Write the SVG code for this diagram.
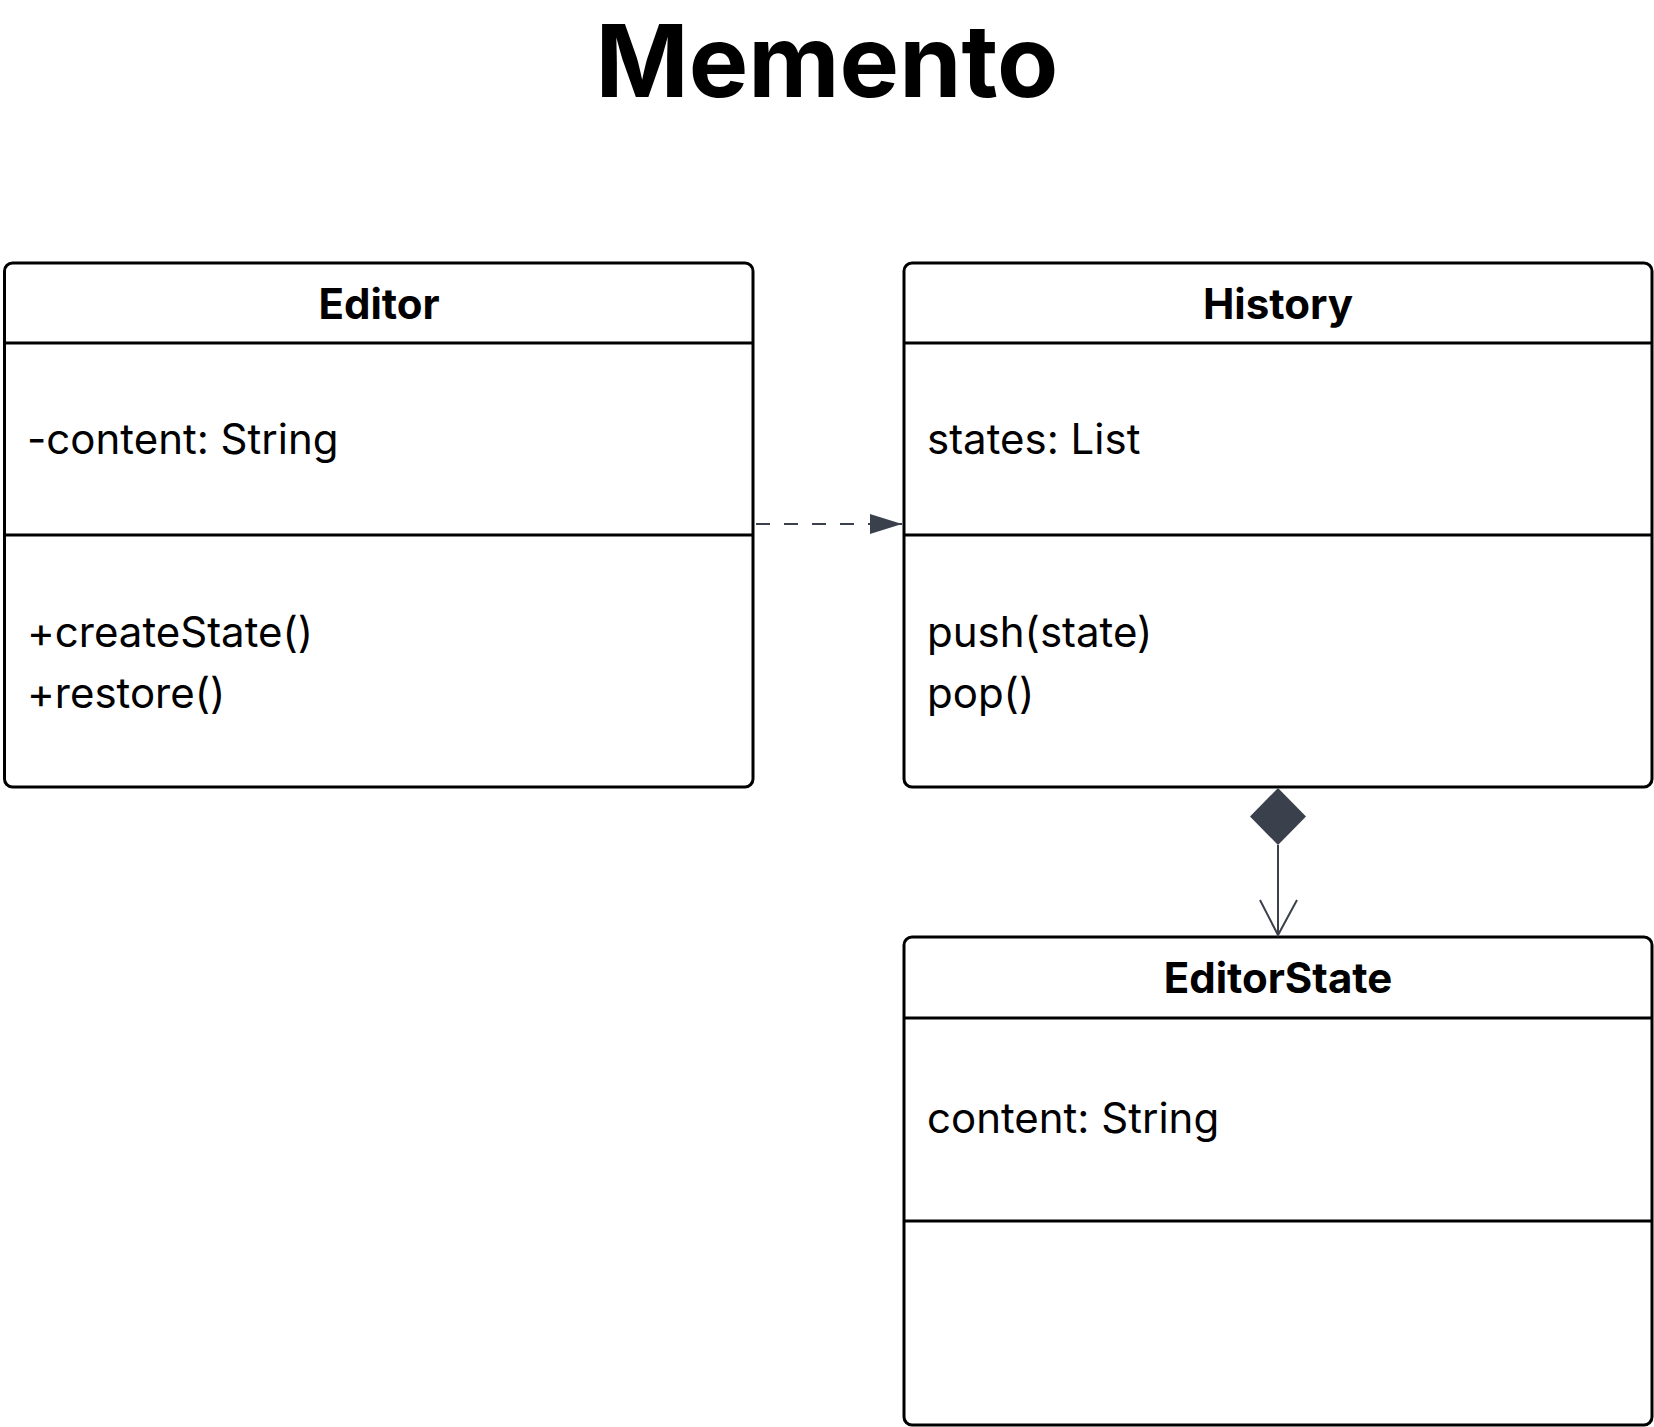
<svg xmlns="http://www.w3.org/2000/svg" width="1654" height="1427" viewBox="0 0 1654 1427">
<style>
.box{fill:#fff;stroke:#000;stroke-width:3}
.div{stroke:#000;stroke-width:3}
.title{font-family:Inter,"Liberation Sans",sans-serif;font-weight:700;font-size:100px;fill:#000}
.hd{font-family:Inter,"Liberation Sans",sans-serif;font-weight:700;font-size:42px;fill:#000}
.tx{font-family:Inter,"Liberation Sans",sans-serif;font-size:42px;fill:#000}
.edge{stroke:#3b414c;stroke-width:2;fill:none}
</style>
<defs>
<marker id="tri" markerWidth="32" markerHeight="20" refX="32" refY="10" orient="auto" markerUnits="userSpaceOnUse">
<path d="M0,0 L32,10 L0,20 Z" fill="#3b414c"/>
</marker>
</defs>
<text class="title" x="827" y="97" text-anchor="middle">Memento</text>
<g id="Editor">
<rect class="box" x="4.5" y="263" width="748.5" height="524" rx="8"/>
<line class="div" x1="4.5" y1="343" x2="753" y2="343"/>
<line class="div" x1="4.5" y1="535" x2="753" y2="535"/>
<text class="hd" x="379" y="319" text-anchor="middle">Editor</text>
<text class="tx" x="27" y="454">-content: String</text>
<text class="tx" x="27" y="647">+createState()</text>
<text class="tx" x="27" y="708">+restore()</text>
</g>
<g id="History">
<rect class="box" x="904" y="263" width="748" height="524" rx="8"/>
<line class="div" x1="904" y1="343" x2="1652" y2="343"/>
<line class="div" x1="904" y1="535" x2="1652" y2="535"/>
<text class="hd" x="1278" y="319" text-anchor="middle">History</text>
<text class="tx" x="927" y="454">states: List</text>
<text class="tx" x="927" y="647">push(state)</text>
<text class="tx" x="927" y="708">pop()</text>
</g>
<g id="EditorState">
<rect class="box" x="904" y="937" width="748" height="488" rx="8"/>
<line class="div" x1="904" y1="1018" x2="1652" y2="1018"/>
<line class="div" x1="904" y1="1221" x2="1652" y2="1221"/>
<text class="hd" x="1278" y="993" text-anchor="middle">EditorState</text>
<text class="tx" x="927" y="1133">content: String</text>
</g>
<g id="connectors">
<line class="edge" x1="756" y1="524" x2="902" y2="524" stroke-dasharray="14,14" marker-end="url(#tri)"/>
<path d="M1278,788 L1306,816.5 L1278,845 L1250,816.5 Z" fill="#3b414c"/>
<line class="edge" x1="1278" y1="845" x2="1278" y2="935"/>
<path class="edge" d="M1260,900 L1278,935 L1297,900"/>
</g>
</svg>
